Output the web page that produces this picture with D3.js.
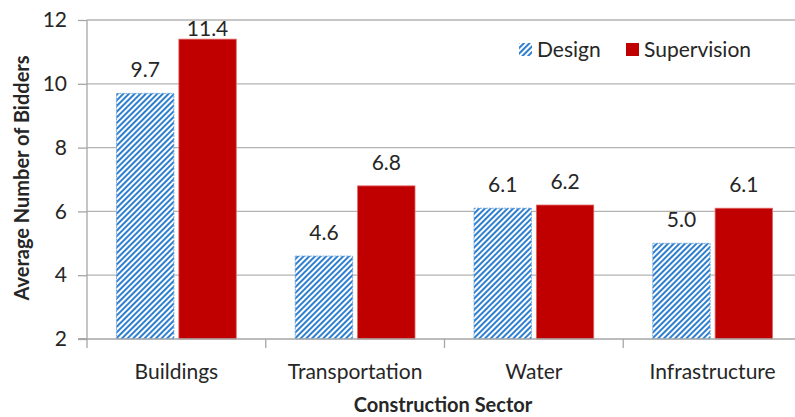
<!DOCTYPE html>
<html>
<head>
<meta charset="utf-8">
<script src="https://cdn.jsdelivr.net/npm/d3@7"></script>
<style>
  body { margin: 0; background: #fff; }
  svg { display: block; font-family: Lato, "Open Sans", sans-serif; }
</style>
</head>
<body>
<svg width="795" height="417"></svg>
<script>
const sectors = ['Buildings', 'Transportation', 'Water', 'Infrastructure'];
const seriesNames = ['Design', 'Supervision'];
const design = [9.7, 4.6, 6.1, 5.0];
const supervision = [11.4, 6.8, 6.2, 6.1];
const yTicks = [2, 4, 6, 8, 10, 12];

const svg = d3.select('svg');
const margin = { top: 20, left: 87 };
const plotW = 715, plotH = 319;

// hatch for Design bars
const defs = svg.append('defs');
const pat = defs.append('pattern')
  .attr('id', 'hatch')
  .attr('patternUnits', 'userSpaceOnUse')
  .attr('width', 4).attr('height', 4)
  .attr('patternTransform', 'rotate(45)');
pat.append('rect').attr('width', 4).attr('height', 4).attr('fill', '#fff');
pat.append('rect').attr('width', 2).attr('height', 4).attr('fill', '#2f7fcf');

const g = svg.append('g').attr('transform', `translate(${margin.left},${margin.top})`);

const x0 = d3.scaleBand().domain(sectors).range([0, plotW]).paddingInner(0.33).paddingOuter(0.165);
const x1 = d3.scaleBand().domain(seriesNames).range([0, x0.bandwidth()]).paddingInner(0.08);
const y = d3.scaleLinear().domain([2, 12]).range([plotH, 0]);

// gridlines
g.append('g')
  .selectAll('line')
  .data(yTicks.slice(1))
  .join('line')
  .attr('x1', 0).attr('x2', plotW + 10)
  .attr('y1', d => y(d)).attr('y2', d => y(d))
  .attr('stroke', '#b3b3b3').attr('stroke-width', 1.3);

// y axis
const yAxis = g.append('g')
  .call(d3.axisLeft(y).tickValues(yTicks).tickSize(9).tickPadding(11).tickFormat(d3.format('d')));
yAxis.selectAll('line').attr('stroke', '#a6a6a6').attr('stroke-width', 1.3);
yAxis.select('.domain').attr('stroke', '#a6a6a6').attr('stroke-width', 1.3).attr('d', `M-9,${plotH}H0V0`);
yAxis.selectAll('text').attr('font-size', 21).attr('fill', '#262626').attr('font-family', 'Lato, sans-serif');

// bars
const data = sectors.map((s, i) => ({ sector: s, values: [
  { key: 'Design', v: design[i] }, { key: 'Supervision', v: supervision[i] }] }));

const groups = g.append('g').selectAll('g')
  .data(data).join('g')
  .attr('transform', d => `translate(${x0(d.sector)},0)`);

groups.selectAll('rect')
  .data(d => d.values).join('rect')
  .attr('x', d => x1(d.key))
  .attr('width', x1.bandwidth())
  .attr('y', d => y(d.v))
  .attr('height', d => y(2) - y(d.v))
  .attr('fill', d => d.key === 'Design' ? 'url(#hatch)' : '#c00000')
  .attr('stroke', d => d.key === 'Design' ? '#5b9bd5' : '#e06666')
  .attr('stroke-width', 0.8)
  .attr('stroke-dasharray', d => d.key === 'Design' ? '2,1' : null);

groups.selectAll('text')
  .data(d => d.values).join('text')
  .attr('x', d => x1(d.key) + x1.bandwidth() / 2)
  .attr('y', d => Math.max(y(d.v) - 16, 16))
  .attr('text-anchor', 'middle')
  .attr('font-size', 21)
  .attr('fill', '#262626')
  .text(d => d.v.toFixed(1));

// x axis
const xAxis = g.append('g').attr('transform', `translate(0,${plotH})`);
xAxis.append('line').attr('x1', -9).attr('x2', plotW + 10).attr('stroke', '#a6a6a6').attr('stroke-width', 1.3);
xAxis.selectAll('.tk')
  .data(d3.range(sectors.length + 1)).join('line')
  .attr('class', 'tk')
  .attr('x1', i => i * plotW / sectors.length).attr('x2', i => i * plotW / sectors.length)
  .attr('y1', 0).attr('y2', 9)
  .attr('stroke', '#a6a6a6').attr('stroke-width', 1.3);
xAxis.selectAll('.lbl')
  .data(sectors).join('text')
  .attr('class', 'lbl')
  .attr('x', d => x0(d) + x0.bandwidth() / 2)
  .attr('y', 40)
  .attr('text-anchor', 'middle')
  .attr('font-size', 21)
  .attr('fill', '#262626')
  .text(d => d);

// axis titles
svg.append('text')
  .attr('x', 443).attr('y', 412)
  .attr('text-anchor', 'middle')
  .attr('font-size', 20).attr('font-weight', 'bold').attr('fill', '#262626')
  .text('Construction Sector');
svg.append('text')
  .attr('transform', 'translate(29,178) rotate(-90)')
  .attr('text-anchor', 'middle')
  .attr('font-size', 20).attr('font-weight', 'bold').attr('fill', '#262626')
  .text('Average Number of Bidders');

// legend
const legend = svg.append('g');
const legendX = [519, 626];
seriesNames.forEach((name, i) => {
  legend.append('rect')
    .attr('x', legendX[i]).attr('y', 43).attr('width', 13).attr('height', 13)
    .attr('fill', i === 0 ? 'url(#hatch)' : '#c00000');
  legend.append('text')
    .attr('x', legendX[i] + 18).attr('y', 57)
    .attr('font-size', 21).attr('fill', '#262626')
    .text(name);
});
</script>
</body>
</html>
